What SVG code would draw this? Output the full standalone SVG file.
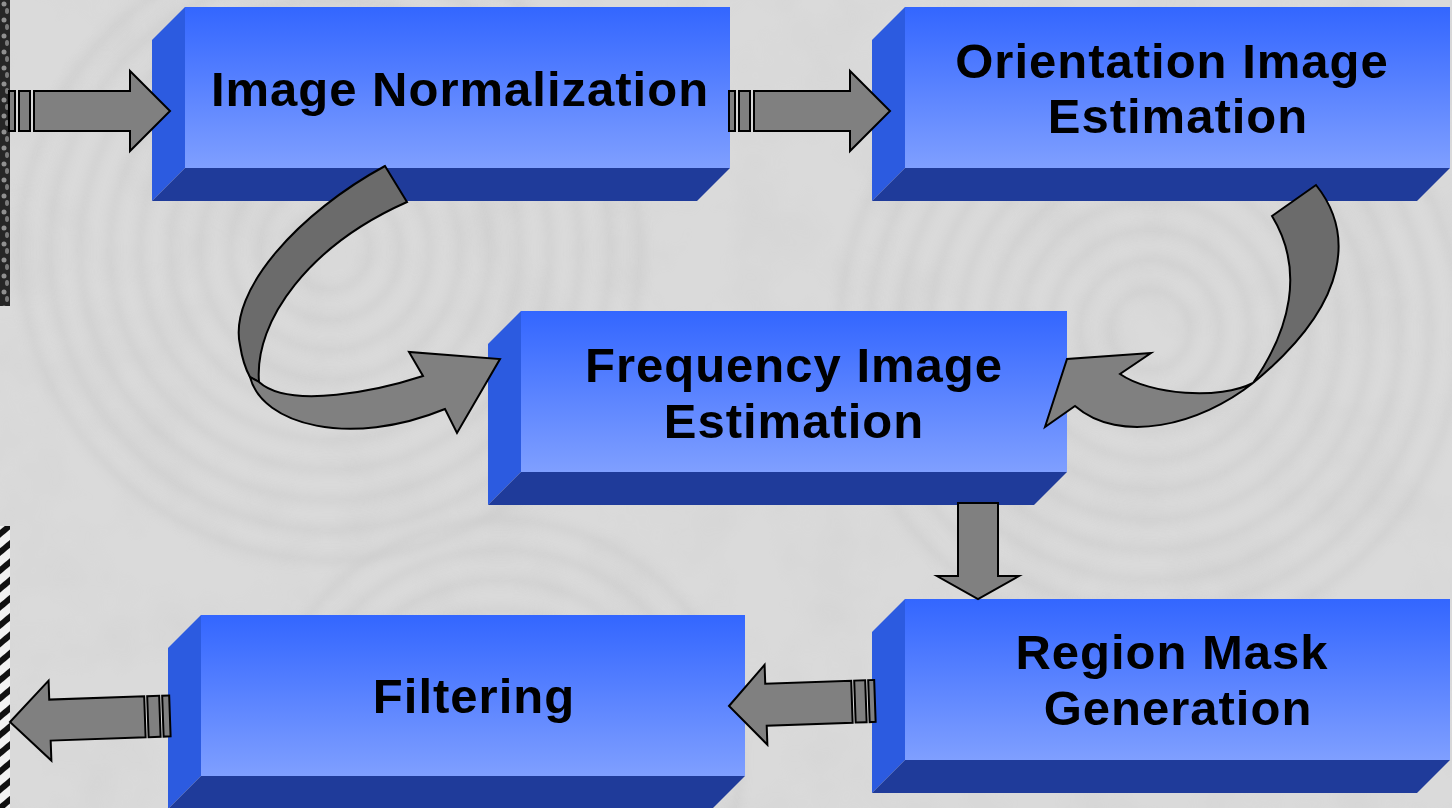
<svg xmlns="http://www.w3.org/2000/svg" width="1452" height="808" viewBox="0 0 1452 808">
<style>
.front{fill:url(#faceGrad);}
.side{fill:#2c5be0;}
.bottom{fill:#1f3b9a;}
.label{font-family:"Liberation Sans",Arial,sans-serif;font-weight:bold;font-size:49px;fill:#000;text-anchor:middle;letter-spacing:1px;}
.arr{fill:#808080;stroke:#000;stroke-width:2;stroke-linejoin:miter;}
.arrDark{fill:#6b6b6b;stroke:#000;stroke-width:2;stroke-linejoin:miter;}
.ridge{fill:none;stroke:#c4c4c4;stroke-width:8;opacity:0.35;}
</style>
<defs>
<linearGradient id="faceGrad" x1="0" y1="0" x2="0" y2="1">
<stop offset="0" stop-color="#3366ff"/>
<stop offset="1" stop-color="#7f9fff"/>
</linearGradient>
<filter id="blur" x="-10%" y="-10%" width="120%" height="120%">
<feGaussianBlur stdDeviation="4"/>
</filter>
<filter id="mottle" x="0" y="0" width="100%" height="100%">
<feTurbulence type="fractalNoise" baseFrequency="0.015" numOctaves="3" seed="4"/>
<feColorMatrix type="matrix" values="0 0 0 0 0.5  0 0 0 0 0.5  0 0 0 0 0.5  0 0 0 1.1 -0.45"/>
</filter>
<pattern id="stripes" width="14" height="14" patternUnits="userSpaceOnUse" patternTransform="rotate(-40)">
<rect width="14" height="14" fill="#f2f2f2"/>
<rect width="14" height="6" fill="#111"/>
</pattern>
<pattern id="blobs" width="10" height="16" patternUnits="userSpaceOnUse">
<rect width="10" height="16" fill="#262626"/>
<ellipse cx="4" cy="4" rx="2.5" ry="2.5" fill="#909090"/>
<ellipse cx="7" cy="11" rx="2" ry="3" fill="#7a7a7a"/>
</pattern>
</defs>

<g id="background">
<rect width="1452" height="808" fill="#dadada"/>
<rect width="1452" height="808" filter="url(#mottle)" opacity="0.25"/>
<g filter="url(#blur)">
<circle class="ridge" cx="330" cy="250" r="40"/>
<circle class="ridge" cx="330" cy="250" r="70"/>
<circle class="ridge" cx="330" cy="250" r="100"/>
<circle class="ridge" cx="330" cy="250" r="130"/>
<circle class="ridge" cx="330" cy="250" r="160"/>
<circle class="ridge" cx="330" cy="250" r="190"/>
<circle class="ridge" cx="330" cy="250" r="220"/>
<circle class="ridge" cx="330" cy="250" r="250"/>
<circle class="ridge" cx="330" cy="250" r="280"/>
<circle class="ridge" cx="330" cy="250" r="310"/>
<circle class="ridge" cx="1150" cy="330" r="40"/>
<circle class="ridge" cx="1150" cy="330" r="70"/>
<circle class="ridge" cx="1150" cy="330" r="100"/>
<circle class="ridge" cx="1150" cy="330" r="130"/>
<circle class="ridge" cx="1150" cy="330" r="160"/>
<circle class="ridge" cx="1150" cy="330" r="190"/>
<circle class="ridge" cx="1150" cy="330" r="220"/>
<circle class="ridge" cx="1150" cy="330" r="250"/>
<circle class="ridge" cx="1150" cy="330" r="280"/>
<circle class="ridge" cx="1150" cy="330" r="310"/>
<circle class="ridge" cx="500" cy="760" r="60"/>
<circle class="ridge" cx="500" cy="760" r="90"/>
<circle class="ridge" cx="500" cy="760" r="120"/>
<circle class="ridge" cx="500" cy="760" r="150"/>
<circle class="ridge" cx="500" cy="760" r="180"/>
<circle class="ridge" cx="500" cy="760" r="210"/>
<circle class="ridge" cx="500" cy="760" r="240"/>
</g>
<rect x="0" y="0" width="10" height="306" fill="url(#blobs)"/>
<rect x="0" y="526" width="10" height="282" fill="url(#stripes)"/>
</g>

<g id="node-image-normalization">
<path class="side" d="M152,40 L185,7 L185,168 L152,201 Z"/>
<path class="bottom" d="M152,201 L185,168 L730,168 L697,201 Z"/>
<rect class="front" x="185" y="7" width="545" height="161"/>
<text class="label" x="460" y="106">Image Normalization</text>
</g>

<g id="node-orientation-image-estimation">
<path class="side" d="M872,40 L905,7 L905,168 L872,201 Z"/>
<path class="bottom" d="M872,201 L905,168 L1450,168 L1417,201 Z"/>
<rect class="front" x="905" y="7" width="545" height="161"/>
<text class="label" x="1172" y="78">Orientation Image</text>
<text class="label" x="1178" y="133">Estimation</text>
</g>

<g id="node-frequency-image-estimation">
<path class="side" d="M488,344 L521,311 L521,472 L488,505 Z"/>
<path class="bottom" d="M488,505 L521,472 L1067,472 L1034,505 Z"/>
<rect class="front" x="521" y="311" width="546" height="161"/>
<text class="label" x="794" y="382">Frequency Image</text>
<text class="label" x="794" y="438">Estimation</text>
</g>

<g id="node-region-mask-generation">
<path class="side" d="M872,632 L905,599 L905,760 L872,793 Z"/>
<path class="bottom" d="M872,793 L905,760 L1450,760 L1417,793 Z"/>
<rect class="front" x="905" y="599" width="545" height="161"/>
<text class="label" x="1172" y="669">Region Mask</text>
<text class="label" x="1178" y="725">Generation</text>
</g>

<g id="node-filtering">
<path class="side" d="M168,648 L201,615 L201,776 L168,809 Z"/>
<path class="bottom" d="M168,809 L201,776 L745,776 L712,809 Z"/>
<rect class="front" x="201" y="615" width="544" height="161"/>
<text class="label" x="474" y="713">Filtering</text>
</g>

<g id="connectors">
<g id="arrow-in">
<rect class="arr" x="9" y="91" width="6" height="40"/>
<rect class="arr" x="19" y="91" width="11" height="40"/>
<path class="arr" d="M34,91 L130,91 L130,71 L170,111 L130,151 L130,131 L34,131 Z"/>
</g>
<g id="arrow-norm-orient">
<rect class="arr" x="729" y="91" width="6" height="40"/>
<rect class="arr" x="739" y="91" width="11" height="40"/>
<path class="arr" d="M754,91 L850,91 L850,71 L890,111 L850,151 L850,131 L754,131 Z"/>
</g>
<g id="arrow-norm-freq">
<path class="arrDark" d="M385,166 C300,212 228,290 240,345 C242,358 245,368 250,377 L259,382 C254,320 310,245 407,202 Z"/>
<path class="arr" d="M250,377 C262,425 350,448 445,409 L457,433 L500,359 L409,352 L423,376 C380,390 290,410 259,382 Z"/>
</g>
<g id="arrow-orient-freq">
<path class="arrDark" d="M1272,216 L1316,185 C1352,230 1354,300 1253,383 C1290,330 1305,270 1272,216 Z"/>
<path class="arr" d="M1253,383 C1200,425 1120,445 1075,406 L1045,427 L1067,359 L1151,353 L1120,374 C1150,395 1220,400 1253,383 Z"/>
</g>
<g id="arrow-freq-region">
<path class="arr" d="M958,503 L998,503 L998,576 L1019,576 L978,599 L937,576 L958,576 Z"/>
</g>
<g id="arrow-region-filter" transform="rotate(-2 729 706)">
<path class="arr" d="M729,706 L766,666 L766,685 L852,685 L852,727 L766,727 L766,746 Z"/>
<rect class="arr" x="855" y="685" width="11" height="42"/>
<rect class="arr" x="869" y="685" width="6" height="42"/>
</g>
<g id="arrow-out" transform="rotate(-2 10 722)">
<path class="arr" d="M10,722 L50,682 L50,701 L145,701 L145,742 L50,742 L50,762 Z"/>
<rect class="arr" x="148" y="701" width="12" height="41"/>
<rect class="arr" x="163" y="701" width="7" height="41"/>
</g>
</g>
</svg>
